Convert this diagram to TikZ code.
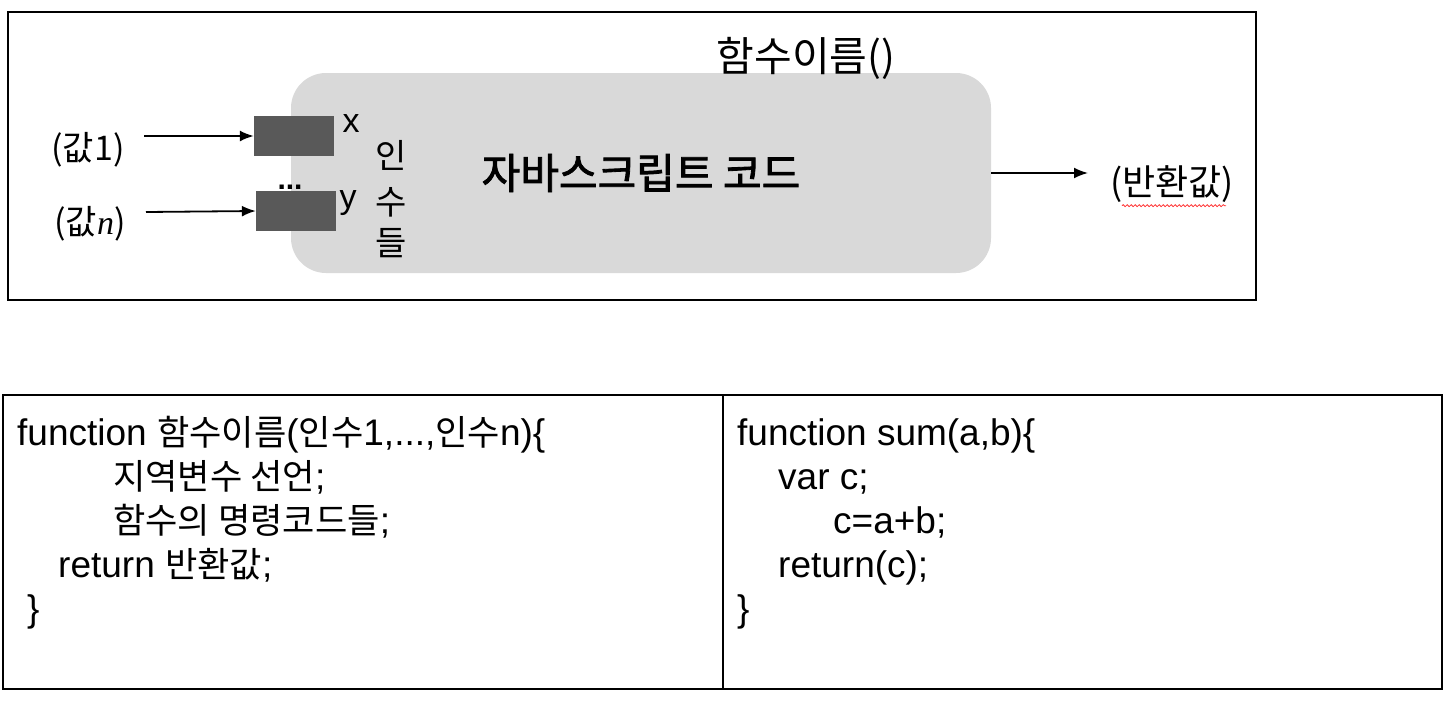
\documentclass[tikz,border=0pt]{standalone}
\usepackage{fontspec}
\setmainfont{Liberation Sans}
\newfontfamily\krfont{Noto Sans CJK KR}
\newfontfamily\krbold{Noto Sans CJK KR}[FakeBold=2]
\newfontfamily\krcode{Noto Sans CJK KR}[Scale=0.95]
\newfontfamily\varfont{Liberation Serif}
\usetikzlibrary{arrows.meta,decorations.pathmorphing}
\definecolor{bodygray}{HTML}{D9D9D9}
\definecolor{argdark}{HTML}{595959}
\tikzset{
  argbox/.style={fill=argdark, minimum width=80pt, minimum height=40pt, inner sep=0pt},
  lbl/.style={font=\krfont\fontsize{34}{40}\selectfont, inner sep=0pt},
  code/.style={anchor=base west, inner sep=0pt, font=\fontsize{37}{44}\selectfont},
  flow/.style={-{Latex[length=14pt,width=11pt]}, line width=1.8pt}
}
\begin{document}
\begin{tikzpicture}[x=1pt,y=-1pt]
    \useasboundingbox (0,0) rectangle (1456,704);
    % upper figure
    \draw[line width=2pt] (8,12) rectangle (1256,300);
    \node[fill=bodygray, rounded corners=35pt, minimum width=700pt, minimum height=200pt, inner sep=0pt,
      font=\krbold\fontsize{42}{48}\selectfont] (body) at (641,173) {자바스크립트 코드};
    \node[lbl, font=\krfont\fontsize{41}{48}\selectfont] (fname) at (806,58) {함수이름()};
    \node[argbox] (xbox) at (294,136) {};
    \node[argbox] (ybox) at (296,211) {};
    \node[inner sep=0pt, font=\fontsize{34}{40}\selectfont] (xname) at (351,124) {x};
    \node[inner sep=0pt, font=\fontsize{34}{40}\selectfont] (yname) at (348,203) {y};
    \node[inner sep=0pt, font=\bfseries\fontsize{30}{36}\selectfont] (dots) at (290,187) {...};
    \node[lbl] (arg1) at (391,155) {인};
    \node[lbl] (arg2) at (391,202) {수};
    \node[lbl] (arg3) at (391,243) {들};
    \node[lbl] (val1) at (88,150) {(값1)};
    \node[lbl] (valn) at (90,224) {(값{\varfont\itshape n})};
    \node[lbl, font=\krfont\fontsize{36}{42}\selectfont] (ret) at (1172,184) {(반환값)};
    \coordinate (in1) at (144,136);
    \coordinate (in2) at (146,212);
    \coordinate (out) at (1088,173);
    \draw[flow] (in1) -- (xbox.west);
    \draw[flow] (in2) -- (ybox.west);
    \draw[flow] (body.east) -- (out);
    \draw[red!80, line width=0.8pt, decorate, decoration={snake, amplitude=1pt, segment length=4pt}]
      ([xshift=12pt,yshift=-3pt]ret.south west) -- ([xshift=-8pt,yshift=-3pt]ret.south east);
    % lower table
    \draw[line width=2pt] (3,395) rectangle (1442,689);
    \draw[line width=2pt] (723,395) -- (723,689);
    \node[code] (l1) at (17,445) {function {\krcode 함수이름}({\krcode 인수}1,...,{\krcode 인수}n)\{};
    \node[code] (l2) at (113,489) {{\krcode 지역변수 선언};};
    \node[code] (l3) at (113,533) {{\krcode 함수의 명령코드들};};
    \node[code] (l4) at (58,577) {return {\krcode 반환값};};
    \node[code] (l5) at (27,621) {\}};
    \node[code] (r1) at (737,445) {function sum(a,b)\{};
    \node[code] (r2) at (778,489) {var c;};
    \node[code] (r3) at (833,533) {c=a+b;};
    \node[code] (r4) at (778,577) {return(c);};
    \node[code] (r5) at (737,621) {\}};
\end{tikzpicture}
\end{document}
